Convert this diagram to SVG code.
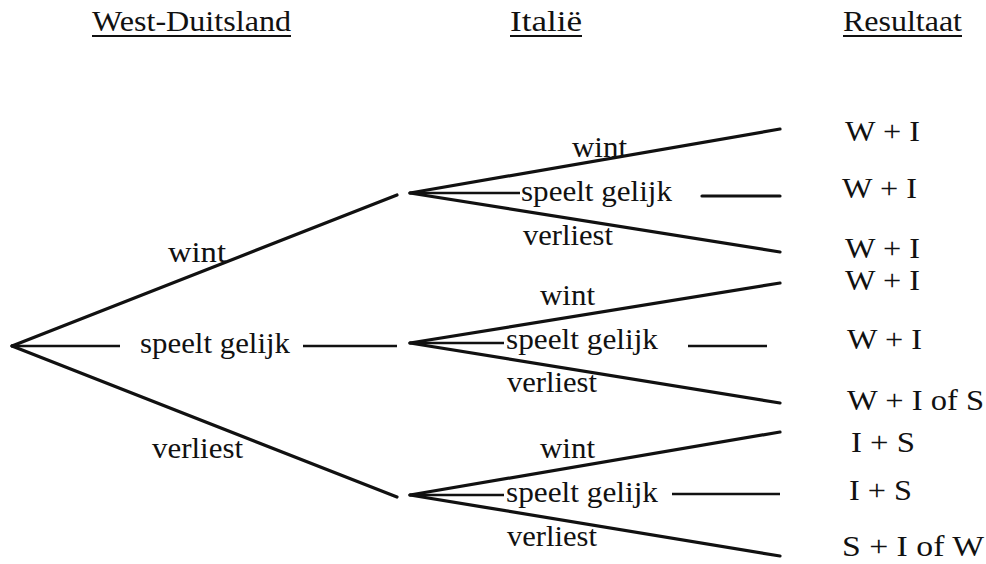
<svg xmlns="http://www.w3.org/2000/svg" width="986" height="564" viewBox="0 0 986 564">
<style>
text{font-family:"Liberation Serif","Times New Roman",Times,serif;fill:#111;}
.h{font-size:30px;}
.l{font-size:29px;}
.r{font-size:30px;}
.thick{stroke:#111;stroke-width:3.2;stroke-linecap:round;fill:none;}
.thin{stroke:#111;stroke-width:2.4;fill:none;}
.ul{stroke:#111;stroke-width:2;}
</style>
<rect width="986" height="564" fill="#fff"/>
<g id="headers">
<text class="h" x="92" y="31" textLength="199" lengthAdjust="spacingAndGlyphs">West-Duitsland</text>
<line class="ul" x1="92" y1="36" x2="291" y2="36"/>
<text class="h" x="510" y="31" textLength="72" lengthAdjust="spacingAndGlyphs">Italië</text>
<line class="ul" x1="510" y1="36" x2="582" y2="36"/>
<text class="h" x="843" y="31" textLength="119" lengthAdjust="spacingAndGlyphs">Resultaat</text>
<line class="ul" x1="843" y1="36" x2="962" y2="36"/>
</g>
<g id="connectors">
<line class="thick" x1="12" y1="346" x2="397" y2="195"/>
<line class="thick" x1="12" y1="346" x2="397" y2="497"/>
<line class="thin" x1="12" y1="346" x2="120" y2="346"/>
<line class="thin" x1="303" y1="346" x2="397" y2="346"/>
<line class="thick" x1="410" y1="193" x2="780" y2="129"/>
<line class="thick" x1="410" y1="193" x2="780" y2="252"/>
<line class="thin" x1="410" y1="193" x2="520" y2="193"/>
<line class="thick" x1="702" y1="196" x2="780" y2="196"/>
<line class="thick" x1="410" y1="343" x2="780" y2="283"/>
<line class="thick" x1="410" y1="343" x2="780" y2="403"/>
<line class="thin" x1="410" y1="343" x2="504" y2="343"/>
<line class="thin" x1="688" y1="346" x2="767" y2="346"/>
<line class="thick" x1="410" y1="495" x2="780" y2="432"/>
<line class="thick" x1="410" y1="495" x2="780" y2="556"/>
<line class="thin" x1="410" y1="495" x2="504" y2="495"/>
<line class="thin" x1="672" y1="494" x2="780" y2="494"/>
</g>
<g id="root-labels">
<text class="l" x="168" y="262" textLength="58" lengthAdjust="spacingAndGlyphs">wint</text>
<text class="l" x="140" y="353" textLength="150" lengthAdjust="spacingAndGlyphs">speelt gelijk</text>
<text class="l" x="152" y="458" textLength="91" lengthAdjust="spacingAndGlyphs">verliest</text>
</g>
<g id="node-wint">
<text class="l" x="572" y="157" textLength="55" lengthAdjust="spacingAndGlyphs">wint</text>
<text class="l" x="521" y="201" textLength="151" lengthAdjust="spacingAndGlyphs">speelt gelijk</text>
<text class="l" x="523" y="245" textLength="90" lengthAdjust="spacingAndGlyphs">verliest</text>
</g>
<g id="node-gelijk">
<text class="l" x="540" y="305" textLength="55" lengthAdjust="spacingAndGlyphs">wint</text>
<text class="l" x="506" y="349" textLength="152" lengthAdjust="spacingAndGlyphs">speelt gelijk</text>
<text class="l" x="507" y="392" textLength="90" lengthAdjust="spacingAndGlyphs">verliest</text>
</g>
<g id="node-verliest">
<text class="l" x="540" y="458" textLength="55" lengthAdjust="spacingAndGlyphs">wint</text>
<text class="l" x="506" y="502" textLength="152" lengthAdjust="spacingAndGlyphs">speelt gelijk</text>
<text class="l" x="507" y="546" textLength="90" lengthAdjust="spacingAndGlyphs">verliest</text>
</g>
<g id="results">
<text class="r" x="845" y="141" textLength="75" lengthAdjust="spacingAndGlyphs">W + I</text>
<text class="r" x="842" y="198" textLength="75" lengthAdjust="spacingAndGlyphs">W + I</text>
<text class="r" x="845" y="258" textLength="75" lengthAdjust="spacingAndGlyphs">W + I</text>
<text class="r" x="845" y="290" textLength="75" lengthAdjust="spacingAndGlyphs">W + I</text>
<text class="r" x="847" y="349" textLength="75" lengthAdjust="spacingAndGlyphs">W + I</text>
<text class="r" x="847" y="410" textLength="137" lengthAdjust="spacingAndGlyphs">W + I of S</text>
<text class="r" x="851" y="452" textLength="64" lengthAdjust="spacingAndGlyphs">I + S</text>
<text class="r" x="849" y="500" textLength="63" lengthAdjust="spacingAndGlyphs">I + S</text>
<text class="r" x="842" y="556" textLength="142" lengthAdjust="spacingAndGlyphs">S + I of W</text>
</g>
</svg>
